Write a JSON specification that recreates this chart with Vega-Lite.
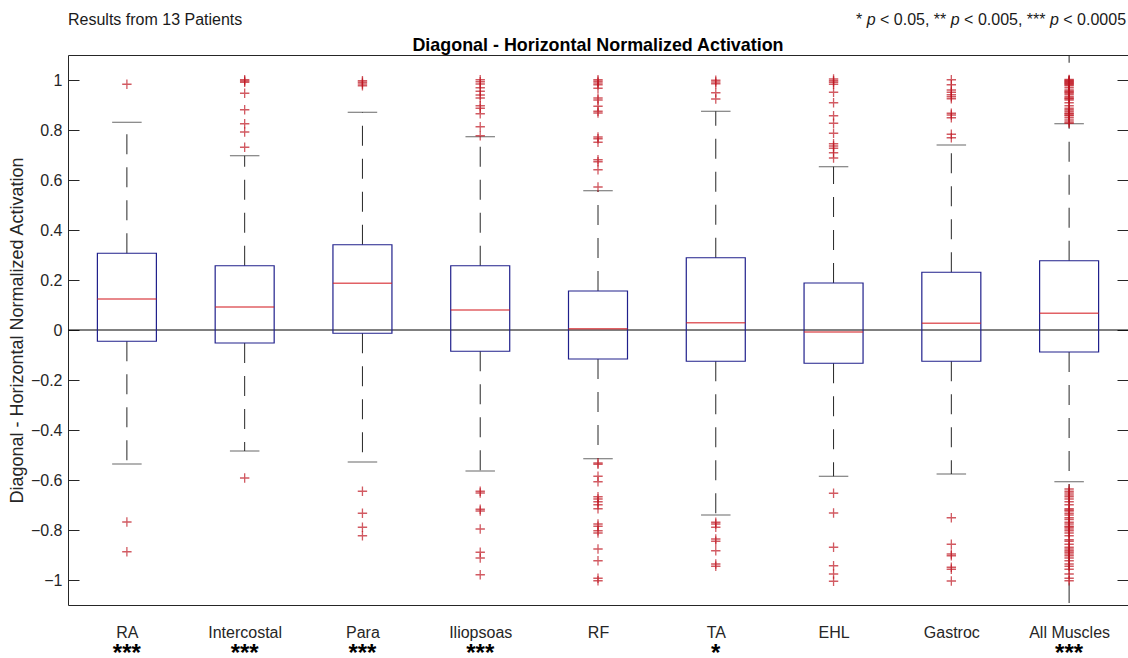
{
  "$schema": "https://vega.github.io/schema/vega-lite/v6.json",
  "width": 1060,
  "height": 550,
  "autosize": {"type": "none"},
  "padding": {"left": 68, "top": 55, "right": 0, "bottom": 53},
  "background": "white",
  "config": {
    "font": "Liberation Sans",
    "view": {"stroke": "#262626", "strokeWidth": 1},
    "axis": {"grid": false, "domain": false}
  },
  "datasets": {
    "boxes": [
      {"muscle": "RA", "q1": -0.045, "median": 0.124, "q3": 0.307, "capLo": -0.536, "capHi": 0.831, "whiskerLo": -0.536, "whiskerHi": 0.831, "sig": "***"},
      {"muscle": "Intercostal", "q1": -0.052, "median": 0.092, "q3": 0.257, "capLo": -0.484, "capHi": 0.697, "whiskerLo": -0.484, "whiskerHi": 0.697, "sig": "***"},
      {"muscle": "Para", "q1": -0.013, "median": 0.187, "q3": 0.341, "capLo": -0.528, "capHi": 0.871, "whiskerLo": -0.528, "whiskerHi": 0.871, "sig": "***"},
      {"muscle": "Iliopsoas", "q1": -0.085, "median": 0.080, "q3": 0.257, "capLo": -0.564, "capHi": 0.773, "whiskerLo": -0.564, "whiskerHi": 0.773, "sig": "***"},
      {"muscle": "RF", "q1": -0.116, "median": 0.005, "q3": 0.156, "capLo": -0.515, "capHi": 0.557, "whiskerLo": -0.515, "whiskerHi": 0.557, "sig": ""},
      {"muscle": "TA", "q1": -0.125, "median": 0.029, "q3": 0.289, "capLo": -0.740, "capHi": 0.875, "whiskerLo": -0.740, "whiskerHi": 0.875, "sig": "*"},
      {"muscle": "EHL", "q1": -0.133, "median": -0.008, "q3": 0.188, "capLo": -0.585, "capHi": 0.653, "whiskerLo": -0.585, "whiskerHi": 0.653, "sig": ""},
      {"muscle": "Gastroc", "q1": -0.125, "median": 0.027, "q3": 0.231, "capLo": -0.576, "capHi": 0.740, "whiskerLo": -0.576, "whiskerHi": 0.740, "sig": ""},
      {"muscle": "All Muscles", "q1": -0.088, "median": 0.067, "q3": 0.277, "capLo": -0.607, "capHi": 0.825, "whiskerLo": -1.1, "whiskerHi": 1.1, "sig": "***"}
    ],
    "outliers": [
      {"muscle": "RA", "value": 0.983}, {"muscle": "RA", "value": -0.768}, {"muscle": "RA", "value": -0.887},
      {"muscle": "Intercostal", "value": 1.001}, {"muscle": "Intercostal", "value": 0.996}, {"muscle": "Intercostal", "value": 0.991}, {"muscle": "Intercostal", "value": 0.947}, {"muscle": "Intercostal", "value": 0.881}, {"muscle": "Intercostal", "value": 0.825}, {"muscle": "Intercostal", "value": 0.792}, {"muscle": "Intercostal", "value": 0.731}, {"muscle": "Intercostal", "value": -0.592},
      {"muscle": "Para", "value": 0.997}, {"muscle": "Para", "value": 0.991}, {"muscle": "Para", "value": 0.984}, {"muscle": "Para", "value": 0.977}, {"muscle": "Para", "value": -0.645}, {"muscle": "Para", "value": -0.733}, {"muscle": "Para", "value": -0.789}, {"muscle": "Para", "value": -0.823},
      {"muscle": "Iliopsoas", "value": 1.001}, {"muscle": "Iliopsoas", "value": 0.993}, {"muscle": "Iliopsoas", "value": 0.984}, {"muscle": "Iliopsoas", "value": 0.969}, {"muscle": "Iliopsoas", "value": 0.955}, {"muscle": "Iliopsoas", "value": 0.94}, {"muscle": "Iliopsoas", "value": 0.928}, {"muscle": "Iliopsoas", "value": 0.897}, {"muscle": "Iliopsoas", "value": 0.887}, {"muscle": "Iliopsoas", "value": 0.865}, {"muscle": "Iliopsoas", "value": 0.813}, {"muscle": "Iliopsoas", "value": 0.777},
      {"muscle": "Iliopsoas", "value": -0.645}, {"muscle": "Iliopsoas", "value": -0.652}, {"muscle": "Iliopsoas", "value": -0.717}, {"muscle": "Iliopsoas", "value": -0.724}, {"muscle": "Iliopsoas", "value": -0.796}, {"muscle": "Iliopsoas", "value": -0.889}, {"muscle": "Iliopsoas", "value": -0.912}, {"muscle": "Iliopsoas", "value": -0.979},
      {"muscle": "RF", "value": 1.001}, {"muscle": "RF", "value": 0.995}, {"muscle": "RF", "value": 0.988}, {"muscle": "RF", "value": 0.981}, {"muscle": "RF", "value": 0.967}, {"muscle": "RF", "value": 0.928}, {"muscle": "RF", "value": 0.92}, {"muscle": "RF", "value": 0.895}, {"muscle": "RF", "value": 0.875}, {"muscle": "RF", "value": 0.868}, {"muscle": "RF", "value": 0.772}, {"muscle": "RF", "value": 0.765}, {"muscle": "RF", "value": 0.751}, {"muscle": "RF", "value": 0.681}, {"muscle": "RF", "value": 0.673}, {"muscle": "RF", "value": 0.641}, {"muscle": "RF", "value": 0.572},
      {"muscle": "RF", "value": -0.532}, {"muscle": "RF", "value": -0.537}, {"muscle": "RF", "value": -0.585}, {"muscle": "RF", "value": -0.607}, {"muscle": "RF", "value": -0.667}, {"muscle": "RF", "value": -0.676}, {"muscle": "RF", "value": -0.687}, {"muscle": "RF", "value": -0.699}, {"muscle": "RF", "value": -0.715}, {"muscle": "RF", "value": -0.776}, {"muscle": "RF", "value": -0.785}, {"muscle": "RF", "value": -0.803}, {"muscle": "RF", "value": -0.812}, {"muscle": "RF", "value": -0.876}, {"muscle": "RF", "value": -0.923}, {"muscle": "RF", "value": -0.993}, {"muscle": "RF", "value": -1.003},
      {"muscle": "TA", "value": 0.999}, {"muscle": "TA", "value": 0.992}, {"muscle": "TA", "value": 0.985}, {"muscle": "TA", "value": 0.949}, {"muscle": "TA", "value": 0.924},
      {"muscle": "TA", "value": -0.769}, {"muscle": "TA", "value": -0.776}, {"muscle": "TA", "value": -0.789}, {"muscle": "TA", "value": -0.836}, {"muscle": "TA", "value": -0.845}, {"muscle": "TA", "value": -0.883}, {"muscle": "TA", "value": -0.936}, {"muscle": "TA", "value": -0.945},
      {"muscle": "EHL", "value": 1.004}, {"muscle": "EHL", "value": 0.997}, {"muscle": "EHL", "value": 0.991}, {"muscle": "EHL", "value": 0.983}, {"muscle": "EHL", "value": 0.951}, {"muscle": "EHL", "value": 0.909}, {"muscle": "EHL", "value": 0.857}, {"muscle": "EHL", "value": 0.827}, {"muscle": "EHL", "value": 0.787}, {"muscle": "EHL", "value": 0.745}, {"muscle": "EHL", "value": 0.736}, {"muscle": "EHL", "value": 0.727}, {"muscle": "EHL", "value": 0.709}, {"muscle": "EHL", "value": 0.688},
      {"muscle": "EHL", "value": -0.653}, {"muscle": "EHL", "value": -0.732}, {"muscle": "EHL", "value": -0.869}, {"muscle": "EHL", "value": -0.943}, {"muscle": "EHL", "value": -0.976}, {"muscle": "EHL", "value": -1.005},
      {"muscle": "Gastroc", "value": 1.001}, {"muscle": "Gastroc", "value": 0.981}, {"muscle": "Gastroc", "value": 0.96}, {"muscle": "Gastroc", "value": 0.951}, {"muscle": "Gastroc", "value": 0.941}, {"muscle": "Gastroc", "value": 0.933}, {"muscle": "Gastroc", "value": 0.925}, {"muscle": "Gastroc", "value": 0.867}, {"muscle": "Gastroc", "value": 0.86}, {"muscle": "Gastroc", "value": 0.849}, {"muscle": "Gastroc", "value": 0.783}, {"muscle": "Gastroc", "value": 0.769},
      {"muscle": "Gastroc", "value": -0.751}, {"muscle": "Gastroc", "value": -0.857}, {"muscle": "Gastroc", "value": -0.896}, {"muscle": "Gastroc", "value": -0.903}, {"muscle": "Gastroc", "value": -0.949}, {"muscle": "Gastroc", "value": -0.957}, {"muscle": "Gastroc", "value": -1.004},
      {"muscle": "All Muscles", "value": 1.002}, {"muscle": "All Muscles", "value": 0.999}, {"muscle": "All Muscles", "value": 0.996}, {"muscle": "All Muscles", "value": 0.993}, {"muscle": "All Muscles", "value": 0.99}, {"muscle": "All Muscles", "value": 0.987}, {"muscle": "All Muscles", "value": 0.984}, {"muscle": "All Muscles", "value": 0.981}, {"muscle": "All Muscles", "value": 0.977}, {"muscle": "All Muscles", "value": 0.969}, {"muscle": "All Muscles", "value": 0.96}, {"muscle": "All Muscles", "value": 0.955}, {"muscle": "All Muscles", "value": 0.951}, {"muscle": "All Muscles", "value": 0.947}, {"muscle": "All Muscles", "value": 0.941}, {"muscle": "All Muscles", "value": 0.933}, {"muscle": "All Muscles", "value": 0.928}, {"muscle": "All Muscles", "value": 0.925}, {"muscle": "All Muscles", "value": 0.92}, {"muscle": "All Muscles", "value": 0.909}, {"muscle": "All Muscles", "value": 0.897}, {"muscle": "All Muscles", "value": 0.887}, {"muscle": "All Muscles", "value": 0.881}, {"muscle": "All Muscles", "value": 0.875}, {"muscle": "All Muscles", "value": 0.868}, {"muscle": "All Muscles", "value": 0.865}, {"muscle": "All Muscles", "value": 0.86}, {"muscle": "All Muscles", "value": 0.857}, {"muscle": "All Muscles", "value": 0.849}, {"muscle": "All Muscles", "value": 0.84}, {"muscle": "All Muscles", "value": 0.832}, {"muscle": "All Muscles", "value": 0.827},
      {"muscle": "All Muscles", "value": -0.636}, {"muscle": "All Muscles", "value": -0.645}, {"muscle": "All Muscles", "value": -0.652}, {"muscle": "All Muscles", "value": -0.66}, {"muscle": "All Muscles", "value": -0.667}, {"muscle": "All Muscles", "value": -0.676}, {"muscle": "All Muscles", "value": -0.687}, {"muscle": "All Muscles", "value": -0.699}, {"muscle": "All Muscles", "value": -0.715}, {"muscle": "All Muscles", "value": -0.72}, {"muscle": "All Muscles", "value": -0.724}, {"muscle": "All Muscles", "value": -0.733}, {"muscle": "All Muscles", "value": -0.74}, {"muscle": "All Muscles", "value": -0.751}, {"muscle": "All Muscles", "value": -0.758}, {"muscle": "All Muscles", "value": -0.769}, {"muscle": "All Muscles", "value": -0.776}, {"muscle": "All Muscles", "value": -0.785}, {"muscle": "All Muscles", "value": -0.789}, {"muscle": "All Muscles", "value": -0.796}, {"muscle": "All Muscles", "value": -0.803}, {"muscle": "All Muscles", "value": -0.812}, {"muscle": "All Muscles", "value": -0.823}, {"muscle": "All Muscles", "value": -0.839}, {"muscle": "All Muscles", "value": -0.845}, {"muscle": "All Muscles", "value": -0.857}, {"muscle": "All Muscles", "value": -0.869}, {"muscle": "All Muscles", "value": -0.876}, {"muscle": "All Muscles", "value": -0.883}, {"muscle": "All Muscles", "value": -0.889}, {"muscle": "All Muscles", "value": -0.896}, {"muscle": "All Muscles", "value": -0.903}, {"muscle": "All Muscles", "value": -0.912}, {"muscle": "All Muscles", "value": -0.923}, {"muscle": "All Muscles", "value": -0.936}, {"muscle": "All Muscles", "value": -0.945}, {"muscle": "All Muscles", "value": -0.957}, {"muscle": "All Muscles", "value": -0.976}, {"muscle": "All Muscles", "value": -0.993}, {"muscle": "All Muscles", "value": -1.003}
    ],
    "blank": [{}]
  },
  "data": {"name": "boxes"},
  "resolve": {"axis": {"y": "independent"}},
  "encoding": {
    "x": {
      "field": "muscle",
      "type": "nominal",
      "scale": {"type": "point", "padding": 0.5, "domain": ["RA", "Intercostal", "Para", "Iliopsoas", "RF", "TA", "EHL", "Gastroc", "All Muscles"]},
      "axis": {"title": null, "labelAngle": 0, "ticks": false, "labelPadding": 19, "labelFontSize": 16, "labelColor": "#262626", "labelFont": "Liberation Sans"}
    }
  },
  "layer": [
    {
      "data": {"name": "blank"},
      "mark": {"type": "rule", "color": "#000000", "strokeWidth": 1},
      "encoding": {
        "x": null,
        "y": {
          "datum": 0,
          "type": "quantitative",
          "scale": {"domain": [-1.1, 1.1], "nice": false, "zero": false},
          "axis": {
            "orient": "left",
            "values": [-1, -0.8, -0.6, -0.4, -0.2, 0, 0.2, 0.4, 0.6, 0.8, 1],
            "format": "~g",
            "labelFlush": false,
            "ticks": true,
            "tickSize": -11,
            "tickColor": "#262626",
            "labelPadding": 17,
            "labelFontSize": 16,
            "labelColor": "#262626",
            "title": "Diagonal - Horizontal Normalized Activation",
            "titleFontSize": 18,
            "titleFontWeight": "normal",
            "titleColor": "#262626",
            "titlePadding": 4
          }
        }
      }
    },
    {
      "mark": {"type": "rule", "color": "#262626", "strokeWidth": 1, "strokeDash": [20, 13], "clip": true},
      "encoding": {
        "y": {"field": "q3", "type": "quantitative", "axis": null},
        "y2": {"field": "whiskerHi"}
      }
    },
    {
      "mark": {"type": "rule", "color": "#262626", "strokeWidth": 1, "strokeDash": [20, 13], "clip": true},
      "encoding": {
        "y": {"field": "q1", "type": "quantitative", "axis": null},
        "y2": {"field": "whiskerLo"}
      }
    },
    {
      "mark": {"type": "tick", "color": "#262626", "thickness": 1, "size": 29.5},
      "encoding": {"y": {"field": "capHi", "type": "quantitative", "axis": null}}
    },
    {
      "mark": {"type": "tick", "color": "#262626", "thickness": 1, "size": 29.5},
      "encoding": {"y": {"field": "capLo", "type": "quantitative", "axis": null}}
    },
    {
      "mark": {"type": "bar", "size": 59, "fill": null, "fillOpacity": 0, "stroke": "#20208c", "strokeWidth": 1.2},
      "encoding": {
        "y": {"field": "q1", "type": "quantitative", "axis": null},
        "y2": {"field": "q3"}
      }
    },
    {
      "mark": {"type": "tick", "color": "#d41e24", "thickness": 1.3, "size": 59},
      "encoding": {
        "y": {
          "field": "median",
          "type": "quantitative",
          "axis": {"orient": "right", "values": [-1, -0.8, -0.6, -0.4, -0.2, 0, 0.2, 0.4, 0.6, 0.8, 1], "tickSize": -11, "tickColor": "#262626", "labels": false, "title": null}
        }
      }
    },
    {
      "data": {"name": "outliers"},
      "mark": {"type": "point", "shape": "M-1,0H1M0,-1V1", "filled": false, "stroke": "#bf1520", "strokeWidth": 1.3, "strokeOpacity": 1, "size": 88},
      "encoding": {"y": {"field": "value", "type": "quantitative", "axis": null}}
    },
    {
      "mark": {"type": "text", "fontSize": 24, "fontWeight": "bold", "color": "#000000", "baseline": "alphabetic", "dy": 56},
      "encoding": {
        "y": {"datum": -1.1, "type": "quantitative", "axis": null},
        "text": {"field": "sig"}
      }
    },
    {
      "data": {"name": "blank"},
      "mark": {"type": "text", "text": "Diagonal - Horizontal Normalized Activation", "fontSize": 17.9, "fontWeight": "bold", "color": "#000000", "align": "center", "baseline": "alphabetic", "dy": -4.5},
      "encoding": {"x": {"datum": "RF"}, "y": {"datum": 1.1, "type": "quantitative", "axis": null}}
    },
    {
      "data": {"name": "blank"},
      "mark": {"type": "text", "text": "Results from 13 Patients", "fontSize": 16, "color": "#1a1a1a", "align": "left", "baseline": "alphabetic", "dx": -58.9, "dy": -30},
      "encoding": {"x": {"datum": "RA"}, "y": {"datum": 1.1, "type": "quantitative", "axis": null}}
    },
    {
      "data": {"name": "blank"},
      "mark": {"type": "text", "text": "*", "fontSize": 16, "color": "#1a1a1a", "align": "left", "baseline": "alphabetic", "dx": -213.1, "dy": -30},
      "encoding": {"x": {"datum": "All Muscles"}, "y": {"datum": 1.1, "type": "quantitative", "axis": null}}
    },
    {
      "data": {"name": "blank"},
      "mark": {"type": "text", "text": "p", "fontStyle": "italic", "fontSize": 16, "color": "#1a1a1a", "align": "left", "baseline": "alphabetic", "dx": -202.4, "dy": -30},
      "encoding": {"x": {"datum": "All Muscles"}, "y": {"datum": 1.1, "type": "quantitative", "axis": null}}
    },
    {
      "data": {"name": "blank"},
      "mark": {"type": "text", "text": "< 0.05, **", "fontSize": 16, "color": "#1a1a1a", "align": "left", "baseline": "alphabetic", "dx": -189.1, "dy": -30},
      "encoding": {"x": {"datum": "All Muscles"}, "y": {"datum": 1.1, "type": "quantitative", "axis": null}}
    },
    {
      "data": {"name": "blank"},
      "mark": {"type": "text", "text": "p", "fontStyle": "italic", "fontSize": 16, "color": "#1a1a1a", "align": "left", "baseline": "alphabetic", "dx": -118.3, "dy": -30},
      "encoding": {"x": {"datum": "All Muscles"}, "y": {"datum": 1.1, "type": "quantitative", "axis": null}}
    },
    {
      "data": {"name": "blank"},
      "mark": {"type": "text", "text": "< 0.005, ***", "fontSize": 16, "color": "#1a1a1a", "align": "left", "baseline": "alphabetic", "dx": -105.0, "dy": -30},
      "encoding": {"x": {"datum": "All Muscles"}, "y": {"datum": 1.1, "type": "quantitative", "axis": null}}
    },
    {
      "data": {"name": "blank"},
      "mark": {"type": "text", "text": "p", "fontStyle": "italic", "fontSize": 16, "color": "#1a1a1a", "align": "left", "baseline": "alphabetic", "dx": -19.1, "dy": -30},
      "encoding": {"x": {"datum": "All Muscles"}, "y": {"datum": 1.1, "type": "quantitative", "axis": null}}
    },
    {
      "data": {"name": "blank"},
      "mark": {"type": "text", "text": "< 0.0005", "fontSize": 16, "color": "#1a1a1a", "align": "left", "baseline": "alphabetic", "dx": -5.8, "dy": -30},
      "encoding": {"x": {"datum": "All Muscles"}, "y": {"datum": 1.1, "type": "quantitative", "axis": null}}
    }
  ]
}
